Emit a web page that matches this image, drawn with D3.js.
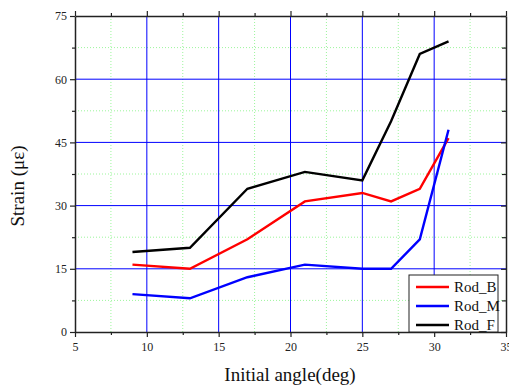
<!DOCTYPE html>
<html lang="en">
<head>
<meta charset="UTF-8">
<title>Strain vs initial angle</title>
<script src="https://cdn.jsdelivr.net/npm/d3@7"></script>
<style>
  body { margin: 0; background: #fff; }
  svg { font-family: "Liberation Serif", "Times New Roman", serif; }
</style>
</head>
<body>
<div id="chart"></div>
<script>
// data
const angles = [9, 13, 17, 21, 25, 27, 29, 31];
const rodB = [16, 15, 22, 31, 33, 31, 34, 46];
const rodM = [9, 8, 13, 16, 15, 15, 22, 48];
const rodF = [19, 20, 34, 38, 36, 50, 66, 69];
const seriesNames = ["Rod_B", "Rod_M", "Rod_F"];
const seriesColors = ["#ff0000", "#0000ff", "#000000"];
const xTicks = [5, 10, 15, 20, 25, 30, 35];
const yTicks = [0, 15, 30, 45, 60, 75];

const W = 509, H = 387;
const margin = {top: 16, right: 3, bottom: 55, left: 75};
const width = W - margin.left - margin.right,
      height = H - margin.top - margin.bottom;

const svg = d3.select("#chart").append("svg")
    .attr("width", W)
    .attr("height", H);
const g = svg.append("g")
    .attr("transform", `translate(${margin.left},${margin.top})`);

const x = d3.scaleLinear().domain([5, 35]).range([0, width]);
const y = d3.scaleLinear().domain([0, 75]).range([height, 0]);

const xMinor = xTicks.slice(0, -1).map(d => d + 2.5);
const yMinor = yTicks.slice(0, -1).map(d => d + 7.5);

// minor grid (green dotted)
g.selectAll(".gx-minor").data(xMinor).enter().append("line")
    .attr("x1", d => x(d)).attr("x2", d => x(d))
    .attr("y1", 0).attr("y2", height)
    .attr("stroke", "#9cf59c").attr("stroke-width", 1)
    .attr("stroke-dasharray", "1,2");
g.selectAll(".gy-minor").data(yMinor).enter().append("line")
    .attr("y1", d => y(d)).attr("y2", d => y(d))
    .attr("x1", 0).attr("x2", width)
    .attr("stroke", "#9cf59c").attr("stroke-width", 1)
    .attr("stroke-dasharray", "1,2");

// major grid (blue)
g.selectAll(".gx").data(xTicks.slice(1, -1)).enter().append("line")
    .attr("x1", d => x(d)).attr("x2", d => x(d))
    .attr("y1", 0).attr("y2", height)
    .attr("stroke", "#0000ff").attr("stroke-width", 1);
g.selectAll(".gy").data(yTicks.slice(1, -1)).enter().append("line")
    .attr("y1", d => y(d)).attr("y2", d => y(d))
    .attr("x1", 0).attr("x2", width)
    .attr("stroke", "#0000ff").attr("stroke-width", 1);

// axes
function styleAxis(sel) {
  sel.attr("font-family", "Liberation Serif, serif");
  sel.select(".domain").attr("stroke", "#222").attr("stroke-width", 1.5);
  sel.selectAll(".tick line").attr("stroke", "#222").attr("stroke-width", 1.2);
  sel.selectAll("text").attr("font-size", "12px").attr("fill", "#222");
}

const xAxis = g.append("g").attr("transform", `translate(0,${height})`)
    .call(d3.axisBottom(x).tickValues(xTicks).tickSize(5).tickSizeOuter(0).tickPadding(5));
styleAxis(xAxis);
const xAxisMinor = g.append("g").attr("transform", `translate(0,${height})`)
    .call(d3.axisBottom(x).tickValues(xMinor).tickSize(3).tickFormat(""));
styleAxis(xAxisMinor);
xAxisMinor.select(".domain").remove();

const yAxis = g.append("g")
    .call(d3.axisLeft(y).tickValues(yTicks).tickSize(5).tickSizeOuter(0).tickPadding(3));
styleAxis(yAxis);
const yAxisMinor = g.append("g")
    .call(d3.axisLeft(y).tickValues(yMinor).tickSize(3).tickFormat(""));
styleAxis(yAxisMinor);
yAxisMinor.select(".domain").remove();

const topAxis = g.append("g")
    .call(d3.axisTop(x).tickValues(xTicks).tickSize(5).tickSizeOuter(0).tickFormat(""));
styleAxis(topAxis);
const topMinor = g.append("g")
    .call(d3.axisTop(x).tickValues(xMinor).tickSize(3).tickFormat(""));
styleAxis(topMinor);
topMinor.select(".domain").remove();

const rightAxis = g.append("g").attr("transform", `translate(${width},0)`)
    .call(d3.axisRight(y).tickValues(yTicks).tickSize(-5).tickSizeOuter(0).tickFormat(""));
styleAxis(rightAxis);
const rightMinor = g.append("g").attr("transform", `translate(${width},0)`)
    .call(d3.axisRight(y).tickValues(yMinor).tickSize(-4).tickFormat(""));
styleAxis(rightMinor);
rightMinor.select(".domain").remove();

// lines
const series = [rodB, rodM, rodF];
const line = d3.line()
    .x((d, i) => x(angles[i]))
    .y(d => y(d));
series.forEach((vals, k) => {
  g.append("path")
    .datum(vals)
    .attr("fill", "none")
    .attr("stroke", seriesColors[k])
    .attr("stroke-width", 2.4)
    .attr("stroke-linejoin", "miter")
    .attr("d", line);
});

// axis titles
svg.append("text")
    .attr("x", 290)
    .attr("y", 381)
    .attr("text-anchor", "middle")
    .attr("font-size", "19px")
    .attr("fill", "#111")
    .text("Initial angle(deg)");

svg.append("text")
    .attr("transform", "translate(24,186) rotate(-90)")
    .attr("text-anchor", "middle")
    .attr("font-size", "19px")
    .attr("fill", "#111")
    .text("Strain (με)");

// legend
const legend = g.append("g")
    .attr("transform", `translate(${409 - margin.left},${275 - margin.top})`);
legend.append("rect")
    .attr("width", 89).attr("height", 57)
    .attr("fill", "#fff").attr("stroke", "#222").attr("stroke-width", 1);
seriesNames.forEach((name, k) => {
  const yy = 12 + k * 19;
  legend.append("line")
    .attr("x1", 7).attr("x2", 40)
    .attr("y1", yy).attr("y2", yy)
    .attr("stroke", seriesColors[k]).attr("stroke-width", 2.4);
  legend.append("text")
    .attr("x", 45).attr("y", yy + 5)
    .attr("font-size", "15px")
    .attr("fill", "#111")
    .text(name);
});
</script>
</body>
</html>
